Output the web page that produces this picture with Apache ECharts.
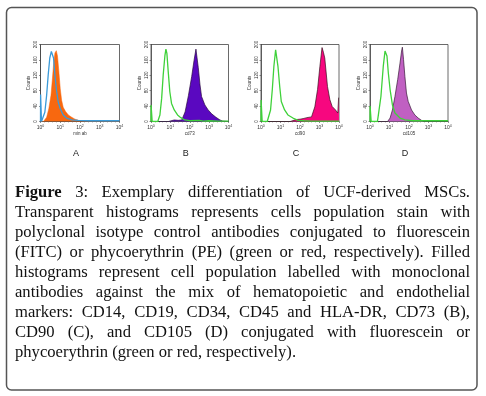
<!DOCTYPE html>
<html><head><meta charset="utf-8">
<script src="https://cdn.jsdelivr.net/npm/echarts@6/dist/echarts.min.js"></script>
<style>html,body{margin:0;padding:0;background:#fff}#c{width:486px;height:396px}</style>
</head><body><div id="c"></div>
<script>
// x values are log10 fluorescence (decades 10^0..10^4), y = counts
const xTicks = [0, 1, 2, 3, 4];
const yTicks = [0, 40, 80, 120, 160, 200];
const panelLetters = ['A', 'B', 'C', 'D'];
const xAxisNames = ['min ab', 'cd73', 'cd90', 'cd105'];

const A_control = [[0,0],[0.005,70],[0.03,70],[0.05,0],[0.1,0],[0.14,3],[0.22,24],[0.31,68],[0.39,121],[0.47,165],[0.55,182],[0.6,185],[0.66,165],[0.73,121],[0.8,85],[0.9,50],[1.0,33],[1.15,17],[1.32,9],[1.58,4],[1.9,3],[2.5,2],[3,2],[3.5,2],[4,2]];
const A_marker = [[0,0],[0.15,0],[0.2,2],[0.31,11],[0.42,33],[0.53,68],[0.59,103],[0.66,147],[0.73,178],[0.8,184],[0.83,186],[0.86,170],[0.93,130],[1.0,85],[1.07,55],[1.15,37],[1.27,26],[1.41,17],[1.58,11],[1.75,6],[1.92,3],[2.05,0],[4,0]];

const B_control = [[0,0],[0.005,43],[0.03,43],[0.06,0],[0.35,0],[0.38,4],[0.46,17],[0.55,60],[0.63,121],[0.72,172],[0.77,188],[0.82,177],[0.89,129],[0.97,78],[1.06,47],[1.2,30],[1.37,17],[1.54,10],[1.74,4],[2.0,2],[2.5,3],[2.7,1],[3.0,2],[3.5,1],[4,1]];
const B_marker = [[0,0],[0.9,0],[1.0,3],[1.2,4],[1.4,3],[1.59,4],[1.76,25],[1.93,67],[2.1,117],[2.22,158],[2.32,188],[2.44,140],[2.53,95],[2.61,65],[2.78,43],[2.95,30],[3.13,20],[3.35,11],[3.56,4],[3.7,1],[3.8,0],[4,0]];

const C_control = [[0,0],[0.005,56],[0.03,56],[0.06,0],[0.32,0],[0.35,4],[0.49,30],[0.58,83],[0.66,143],[0.75,186],[0.8,183],[0.87,143],[0.96,91],[1.04,52],[1.21,30],[1.38,17],[1.64,9],[1.9,3],[2.2,2],[2.6,1],[3,1],[4,1]];
const C_marker = [[0,0],[1.5,0],[1.6,3],[1.8,5],[2.0,6],[2.2,8],[2.35,10],[2.59,12],[2.76,38],[2.9,83],[3.02,143],[3.13,192],[3.2,180],[3.27,165],[3.41,91],[3.53,57],[3.65,39],[3.82,30],[3.94,22],[3.98,62],[4,62]];

const D_control = [[0,0],[0.005,40],[0.03,40],[0.06,0],[0.38,0],[0.43,17],[0.56,65],[0.68,143],[0.77,183],[0.8,188],[0.87,170],[0.94,126],[1.03,83],[1.15,43],[1.28,22],[1.54,9],[1.79,4],[2.2,2],[3,2],[4,2]];
const D_marker = [[0,0],[0.9,0],[1.03,9],[1.15,30],[1.28,65],[1.42,109],[1.54,152],[1.62,183],[1.66,193],[1.72,161],[1.79,117],[1.87,74],[1.96,52],[2.13,30],[2.3,17],[2.47,9],[2.64,3],[2.75,0],[4,0]];

const captionLines = [
  'Figure 3: Exemplary differentiation of UCF-derived MSCs.',
  'Transparent histograms represents cells population stain with',
  'polyclonal isotype control antibodies conjugated to fluorescein',
  '(FITC) or phycoerythrin (PE) (green or red, respectively). Filled',
  'histograms represent cell population labelled with monoclonal',
  'antibodies against the mix of hematopoietic and endothelial',
  'markers: CD14, CD19, CD34, CD45 and HLA-DR, CD73 (B),',
  'CD90 (C), and CD105 (D) conjugated with fluorescein or',
  'phycoerythrin (green or red, respectively).'
];

const controls = [A_control, B_control, C_control, D_control];
const markers = [A_marker, B_marker, C_marker, D_marker];
const controlColors = ['#3b9ad8', '#3fd13a', '#3fd13a', '#3fd13a'];
const markerColors = ['#f8680f', '#5a08c0', '#f7077f', '#c060c2'];
const markerEdge = ['#f8680f', '#2a0a40', '#3a1020', '#3a1a3a'];

const grids = [
  {left: 40.5, top: 44.5, width: 79, height: 77},
  {left: 151, top: 44.5, width: 77.5, height: 77},
  {left: 261, top: 44.5, width: 78, height: 77},
  {left: 370, top: 44.5, width: 78, height: 77}
];

const chart = echarts.init(document.getElementById('c'), null, {renderer: 'canvas'});

const xAxes = [], yAxes = [], series = [], gridOpts = [];
grids.forEach((g, i) => {
  gridOpts.push(Object.assign({show: true, borderColor: '#444', borderWidth: 0.8, backgroundColor: '#fff'}, g));
  xAxes.push({
    type: 'value', gridIndex: i, min: xTicks[0], max: xTicks[xTicks.length - 1], interval: 1,
    name: xAxisNames[i], nameLocation: 'middle', nameGap: 8,
    nameTextStyle: {fontSize: 4.5, color: '#333', fontFamily: 'Liberation Sans'},
    axisLine: {show: true, lineStyle: {color: '#444', width: 0.8}},
    axisTick: {show: true, length: 1.5, lineStyle: {color: '#444', width: 0.6}},
    minorTick: {show: true, splitNumber: 5, length: 1, lineStyle: {color: '#666', width: 0.5}},
    splitLine: {show: false},
    axisLabel: {
      margin: 2.5, fontSize: 5, color: '#333', fontFamily: 'Liberation Sans',
      formatter: v => '{b|10}{s|' + v + '}',
      rich: {b: {fontSize: 5, color: '#333'}, s: {fontSize: 3.5, color: '#333', verticalAlign: 'top', padding: [0, 0, 3, 0]}}
    }
  });
  yAxes.push({
    type: 'value', gridIndex: i, min: yTicks[0], max: yTicks[yTicks.length - 1], interval: 40,
    name: 'Counts', nameLocation: 'middle', nameGap: 9, nameRotate: 90,
    nameTextStyle: {fontSize: 4.5, color: '#333', fontFamily: 'Liberation Sans'},
    axisLine: {show: true, lineStyle: {color: '#444', width: 0.8}},
    axisTick: {show: true, length: 1.5, lineStyle: {color: '#444', width: 0.6}},
    splitLine: {show: false},
    axisLabel: {margin: 2, fontSize: 4.5, color: '#333', rotate: 90, fontFamily: 'Liberation Sans'}
  });
  series.push({
    type: 'line', xAxisIndex: i, yAxisIndex: i, data: markers[i], symbol: 'none', smooth: false,
    lineStyle: {color: markerEdge[i], width: i === 0 ? 0.5 : 0.7},
    areaStyle: {color: markerColors[i], opacity: 1}, z: 2, animation: false
  });
  series.push({
    type: 'line', xAxisIndex: i, yAxisIndex: i, data: controls[i], symbol: 'none', smooth: false,
    lineStyle: {color: controlColors[i], width: 1.3}, z: 3, animation: false
  });
});

// graphic: border, panel letters, justified caption
const graphics = [];
graphics.push({type: 'rect', shape: {x: 6.5, y: 7.5, width: 470.5, height: 382.5, r: 5},
  style: {fill: 'none', stroke: '#555', lineWidth: 1.5}, z: 0, silent: true});
grids.forEach((g, i) => {
  graphics.push({type: 'text', x: g.left + g.width / 2 - 4, y: 154,
    style: {text: panelLetters[i], font: '9px "Liberation Sans"', fill: '#222', align: 'center', verticalAlign: 'middle', textAlign: 'center', textVerticalAlign: 'middle'}});
});

const cv = document.createElement('canvas').getContext('2d');
const fontSize = 16.6;
const regFont = fontSize + 'px "Liberation Serif"';
const boldFont = 'bold ' + fontSize + 'px "Liberation Serif"';
const capLeft = 15, capRight = 470, capTop = 192.3, capStep = 20;
captionLines.forEach((line, li) => {
  const words = line.split(' ');
  const fonts = words.map((w, wi) => (li === 0 && wi === 0) ? boldFont : regFont);
  const widths = words.map((w, wi) => { cv.font = fonts[wi]; return cv.measureText(w).width; });
  const sum = widths.reduce((a, b) => a + b, 0);
  const last = li === captionLines.length - 1;
  cv.font = regFont;
  const space = cv.measureText(' ').width;
  const gap = last ? space : (capRight - capLeft - sum) / (words.length - 1);
  let x = capLeft;
  words.forEach((w, wi) => {
    graphics.push({type: 'text', x: x, y: capTop + li * capStep,
      style: {text: w, font: fonts[wi], fill: '#111', align: 'left', verticalAlign: 'middle', textAlign: 'left', textVerticalAlign: 'middle'}});
    x += widths[wi] + gap;
  });
});

chart.setOption({
  backgroundColor: '#fff',
  animation: false,
  grid: gridOpts,
  xAxis: xAxes,
  yAxis: yAxes,
  series: series,
  graphic: {elements: graphics}
});
</script></body></html>
